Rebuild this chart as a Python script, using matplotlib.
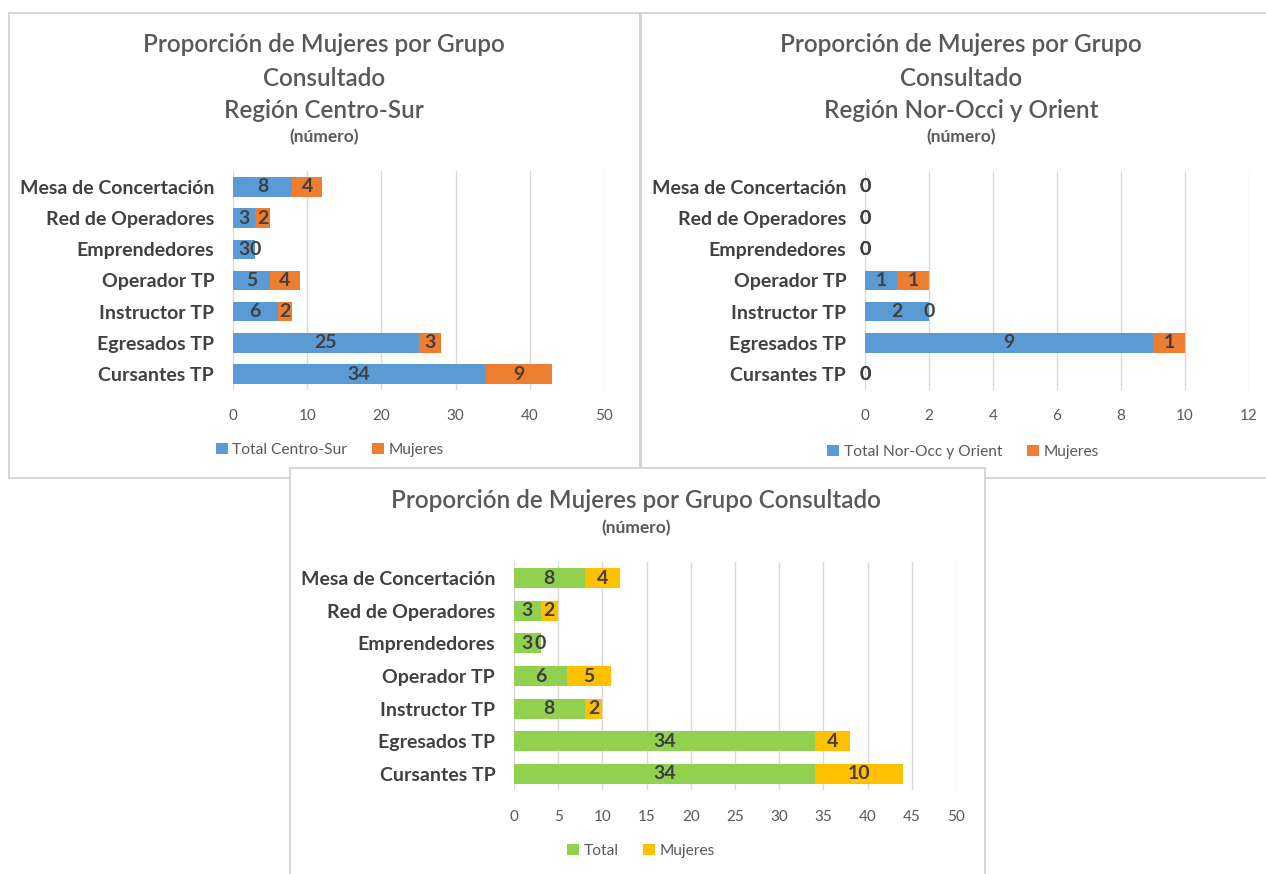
import matplotlib.pyplot as plt
from matplotlib.patches import Rectangle

plt.rcParams['font.family'] = ['Lato', 'DejaVu Sans']

# Datos
categorias = ["Mesa de Concertación", "Red de Operadores", "Emprendedores",
              "Operador TP", "Instructor TP", "Egresados TP", "Cursantes TP"]

total_centro_sur = [8, 3, 3, 5, 6, 25, 34]
mujeres_centro_sur = [4, 2, 0, 4, 2, 3, 9]

total_nor_occ = [0, 0, 0, 1, 2, 9, 0]
mujeres_nor_occ = [0, 0, 0, 1, 0, 1, 0]

total_general = [8, 3, 3, 6, 8, 34, 34]
mujeres_general = [4, 2, 0, 5, 2, 4, 10]

ticks_centro_sur = [0, 10, 20, 30, 40, 50]
ticks_nor_occ = [0, 2, 4, 6, 8, 10, 12]
ticks_general = [0, 5, 10, 15, 20, 25, 30, 35, 40, 45, 50]

AZUL = "#5B9BD5"
NARANJA = "#ED7D31"
VERDE = "#92D050"
AMARILLO = "#FFC000"
GRIS_TITULO = "#595959"
GRIS_TEXTO = "#404040"

W, H = 1266, 874
fig = plt.figure(figsize=(W / 100, H / 100), dpi=100)


def fx(x):
    return x / W


def fy(y):
    return 1 - y / H


def marco(x0, y0, x1, y1, z):
    r = Rectangle((fx(x0), fy(y1)), fx(x1) - fx(x0), fy(y0) - fy(y1),
                  transform=fig.transFigure, facecolor="white",
                  edgecolor="#d0d0d0", linewidth=1.2, zorder=z)
    fig.add_artist(r)


def titulo(x, y, texto, grande=True):
    if grande:
        fig.text(fx(x), fy(y), texto, ha="center", va="center", fontsize=17.5,
                 fontweight="semibold", color=GRIS_TITULO)
    else:
        fig.text(fx(x), fy(y), texto, ha="center", va="center", fontsize=12.5,
                 fontweight="bold", color=GRIS_TITULO)


def grafico(rect, total, mujeres, ticks, c1, c2, nombre_total, leyenda_xy):
    left, top, right, bottom = rect
    ax = fig.add_axes([fx(left), fy(bottom), fx(right) - fx(left), fy(top) - fy(bottom)])
    ax.set_facecolor("none")
    y = list(range(len(categorias)))
    b1 = ax.barh(y, total, height=0.62, color=c1, label=nombre_total, zorder=3)
    b2 = ax.barh(y, mujeres, left=total, height=0.62, color=c2, label="Mujeres", zorder=3)
    for barras in (b1, b2):
        ax.bar_label(barras, label_type="center", fontsize=14, fontweight="bold",
                     color=GRIS_TEXTO, zorder=4)
    ax.set_ylim(len(categorias) - 0.5, -0.5)
    ax.set_xlim(ticks[0], ticks[-1])
    ax.set_xticks(ticks)
    ax.set_yticks(y)
    ax.set_yticklabels(categorias, fontsize=14, fontweight="bold", color=GRIS_TEXTO)
    ax.tick_params(axis="y", length=0, pad=13.5)
    ax.tick_params(axis="x", length=0, pad=14, labelsize=11, labelcolor=GRIS_TITULO)
    ax.grid(axis="x", color="#d9d9d9", linewidth=1, zorder=0)
    for s in ax.spines.values():
        s.set_visible(False)
    lx, ly = leyenda_xy
    ax.legend(loc="center", bbox_to_anchor=(fx(lx), fy(ly)), bbox_transform=fig.transFigure,
              ncol=2, frameon=False, handlelength=0.75, handleheight=0.75,
              handletextpad=0.3, columnspacing=1.6, fontsize=11.2,
              labelcolor=GRIS_TITULO)
    return ax


# Marcos de los tres paneles
marco(9, 13, 640, 478, -3)
marco(641, 13, 1290, 478, -2)
marco(290, 468, 985, 890, -1)

# Región Centro-Sur
grafico((233, 171.4, 604, 389.6), total_centro_sur, mujeres_centro_sur,
        ticks_centro_sur, AZUL, NARANJA, "Total Centro-Sur", (330, 450))
titulo(324, 45, "Proporción de Mujeres por Grupo")
titulo(324, 78, "Consultado")
titulo(324, 110, "Región Centro-Sur")
titulo(324, 137, "(número)", grande=False)

# Región Nor-Occi y Orient
grafico((865, 171.4, 1249, 389.6), total_nor_occ, mujeres_nor_occ,
        ticks_nor_occ, AZUL, NARANJA, "Total Nor-Occ y Orient", (963, 452))
titulo(961, 45, "Proporción de Mujeres por Grupo")
titulo(961, 78, "Consultado")
titulo(961, 110, "Región Nor-Occi y Orient")
titulo(961, 137, "(número)", grande=False)

# Total
grafico((514, 561.7, 956, 790.3), total_general, mujeres_general,
        ticks_general, VERDE, AMARILLO, "Total", (641, 851))
titulo(636, 501, "Proporción de Mujeres por Grupo Consultado")
titulo(636, 528, "(número)", grande=False)

fig.savefig("out.png", dpi=100, facecolor="white")
